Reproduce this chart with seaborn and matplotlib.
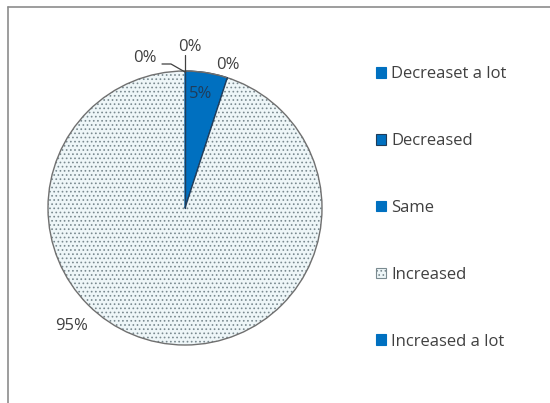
import matplotlib
matplotlib.use("Agg")
import matplotlib.pyplot as plt
import seaborn as sns
import numpy as np
from matplotlib.lines import Line2D

sns.set_theme(style="white")
plt.rcParams['font.family'] = ['Open Sans', 'DejaVu Sans']
plt.rcParams['hatch.linewidth'] = 0.7

categories = ["Decreaset a lot", "Decreased", "Same", "Increased", "Increased a lot"]
values = [0, 5, 0, 95, 0]
pct_labels = ["0%", "5%", "0%", "95%", "0%"]

W, H = 550, 403
fig = plt.figure(figsize=(W / 100, H / 100), dpi=100)
fig.patch.set_facecolor("white")

cx, cy, r = 185, 208, 137
ax = fig.add_axes([(cx - r) / W, (H - cy - r) / H, 2 * r / W, 2 * r / H])

blue = "#0070C0"
wedges, _ = ax.pie(values, startangle=90, counterclock=False, radius=1,
                   wedgeprops=dict(linewidth=0.9))
ax.set_xlim(-1, 1)
ax.set_ylim(-1, 1)
ax.set_aspect("equal")
ax.axis("off")

face = [blue, blue, blue, "#eef6f8", blue]
edges = [blue, "#1f3c5a", blue, "#7a8a90", blue]
for w, f, e in zip(wedges, face, edges):
    w.set_facecolor(f)
    w.set_edgecolor(e)
wedges[3].set_hatch("....")
wedges[3].set_linewidth(0.0)

circ = plt.Circle((0, 0), 1, fill=False, edgecolor="#707070", lw=1.0, clip_on=False)
ax.add_patch(circ)
ang = np.deg2rad(90 - 360 * values[1] / sum(values))
ax.add_line(Line2D([0, 0], [0, 1], color="#1f3c5a", lw=1.0))
ax.add_line(Line2D([0, np.cos(ang)], [0, np.sin(ang)], color="#1f3c5a", lw=1.0))

def px(x, y):
    return ((x - cx) / r, (cy - y) / r)

tc = "#404040"
fs = 12
ax.text(*px(190, 47), pct_labels[0], ha="center", va="center", fontsize=fs, color=tc, clip_on=False)
ax.text(*px(201, 94), pct_labels[1], ha="center", va="center", fontsize=fs, color="#1f3c5a", clip_on=False)
ax.text(*px(228, 65), pct_labels[2], ha="center", va="center", fontsize=fs, color=tc, clip_on=False)
ax.text(*px(72, 326), pct_labels[3], ha="center", va="center", fontsize=fs, color=tc, clip_on=False)
ax.text(*px(145, 58), pct_labels[4], ha="center", va="center", fontsize=fs, color=tc, clip_on=False)
x0, y0 = px(185, 55); x1, y1 = px(185, 72)
ax.add_line(Line2D([x0, x1], [y0, y1], color="#404040", lw=0.9, clip_on=False))
a0 = px(162, 64); a1 = px(171, 64); a2 = px(185, 72)
ax.add_line(Line2D([a0[0], a1[0], a2[0]], [a0[1], a1[1], a2[1]], color="#404040", lw=0.9, clip_on=False))

leg = fig.legend(wedges, categories, loc="upper left",
                 bbox_to_anchor=(368 / W, 1 - 58 / H), frameon=False,
                 fontsize=fs, labelcolor=tc, handlelength=0.6, handleheight=0.6,
                 handletextpad=0.3, labelspacing=3.05, borderpad=0)
for h in leg.legend_handles:
    h.set_linewidth(0.8)

fig.add_artist(Line2D([8 / W, 1], [1 - 7 / H, 1 - 7 / H], color="#8c8c8c", lw=1.2))
fig.add_artist(Line2D([8 / W, 8 / W], [0, 1 - 7 / H], color="#8c8c8c", lw=1.2))

fig.savefig("out.png", dpi=100, facecolor="white")
